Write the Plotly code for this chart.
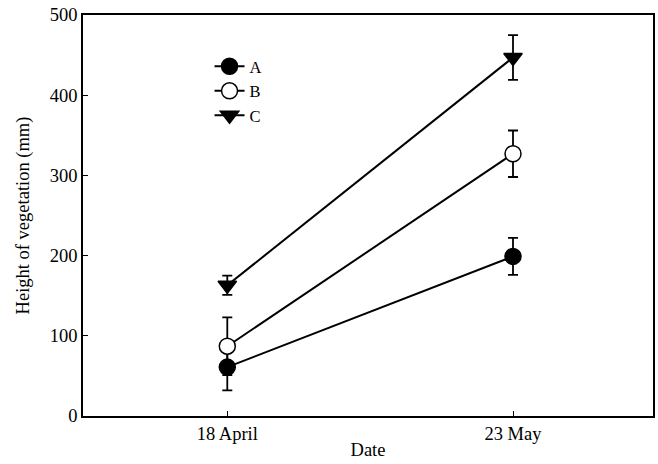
import plotly.graph_objects as go

# Sampling dates and mean vegetation height (mm) with standard errors
dates = ["18 April", "23 May"]
x_pos = [0, 1]

height_a = [61, 199]
err_a = [29, 23]
height_b = [87, 327]
err_b = [36, 29]
height_c = [163, 447]
err_c = [12, 28]

y_ticks = [0, 100, 200, 300, 400, 500]

series = [
    ("A", height_a, err_a, dict(symbol="circle", color="black", size=16,
                                line=dict(color="black", width=1.5))),
    ("B", height_b, err_b, dict(symbol="circle", color="white", size=16,
                                line=dict(color="black", width=1.5))),
    ("C", height_c, err_c, dict(symbol="triangle-down", color="black", size=16,
                                line=dict(color="black", width=1.5))),
]

fig = go.Figure()
for name, y, err, marker in series:
    fig.add_trace(go.Scatter(
        x=x_pos, y=y, name=name, mode="lines+markers",
        line=dict(color="black", width=2),
        marker=marker,
        error_y=dict(type="data", array=err, visible=True,
                     color="black", thickness=1.8, width=5),
    ))

font = dict(family="Liberation Serif, Times New Roman, serif", size=18.5, color="black")
legend_font = dict(font, size=16.5)

fig.update_layout(
    width=658, height=464,
    margin=dict(l=83, r=3, t=15, b=48),
    paper_bgcolor="white", plot_bgcolor="white",
    font=font,
    showlegend=True,
    legend=dict(x=0.222, y=0.915, xanchor="left", yanchor="top",
                bgcolor="rgba(0,0,0,0)", font=legend_font, tracegroupgap=0),
    xaxis=dict(
        range=[-0.505, 1.49], tickvals=x_pos, ticktext=dates,
        showline=True, linecolor="black", linewidth=1.5, mirror=True,
        ticks="inside", ticklen=5, tickcolor="black", showgrid=False,
        zeroline=False, tickfont=font,
        title=dict(text="Date", standoff=0, font=font),
    ),
    yaxis=dict(
        range=[0, 500], tickvals=y_ticks,
        showline=True, linecolor="black", linewidth=1.5, mirror=True,
        ticks="inside", ticklen=5, tickcolor="black", showgrid=False,
        zeroline=False, tickfont=font,
        title=dict(text="Height of vegetation (mm)", standoff=15, font=font),
    ),
)

fig.write_html("out.html")
